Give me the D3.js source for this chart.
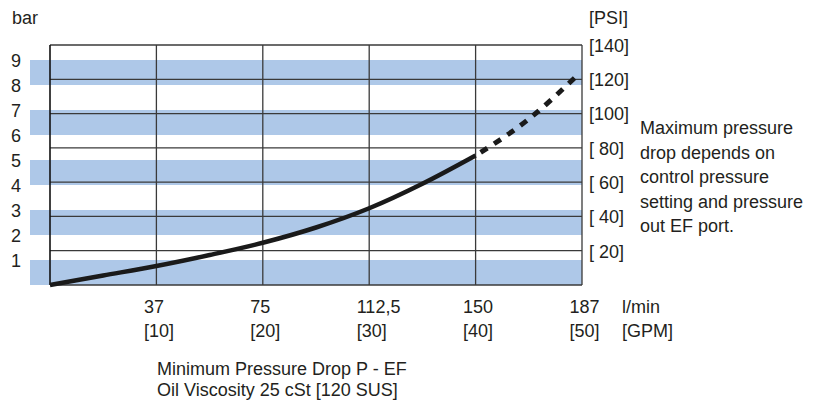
<!DOCTYPE html>
<html>
<head>
<meta charset="utf-8">
<script src="https://cdn.jsdelivr.net/npm/d3@7/dist/d3.min.js"></script>
<style>
  html, body { margin: 0; padding: 0; background: #fff; }
  svg { display: block; }
  text { font-family: "Liberation Sans", Arial, sans-serif; font-size: 18px; fill: #231f20; }
</style>
</head>
<body>
<svg id="chart" width="821" height="404"></svg>
<script>
// ---- data ----
const flowGpmTicks = [10, 20, 30, 40, 50];
const flowLminLabels = ["37", "75", "112,5", "150", "187"];
const flowGpmLabels = ["[10]", "[20]", "[30]", "[40]", "[50]"];
const barTicks = [1, 2, 3, 4, 5, 6, 7, 8, 9];
const psiTicks = [20, 40, 60, 80, 100, 120, 140];
const bandStarts = [0, 2, 4, 6, 8];           // shaded bands: [v, v+1] bar
// measured curve (flow in GPM, pressure drop in bar)
const solidFlow = [0, 5, 10, 15, 20, 25, 30, 35, 40];
const solidBar  = [0, 0.38, 0.76, 1.2, 1.69, 2.3, 3.07, 4.05, 5.18];
const dashFlow  = [40, 45, 49.4];
const dashBar   = [5.18, 6.64, 8.32];
const noteLines = ["Maximum pressure", "drop depends on", "control pressure", "setting and pressure", "out EF port."];
const captionLines = ["Minimum Pressure Drop P - EF", "Oil Viscosity 25 cSt [120 SUS]"];

// ---- scales ----
const x = d3.scaleLinear().domain([0, 50]).range([50, 582]);
const yBar = d3.scaleLinear().domain([0, 9.6]).range([285, 45]);
const yPsi = d3.scaleLinear().domain([0, 140]).range([285, 45]);

const svg = d3.select("#chart");

// bands
svg.append("g").selectAll("rect").data(bandStarts).join("rect")
  .attr("x", 30).attr("width", x(50) - 30)
  .attr("y", d => yBar(d + 1)).attr("height", d => yBar(d) - yBar(d + 1))
  .attr("fill", "#aec8e8");

// horizontal grid (psi)
svg.append("g").selectAll("line").data([0].concat(psiTicks)).join("line")
  .attr("x1", x(0)).attr("x2", x(50))
  .attr("y1", d => yPsi(d)).attr("y2", d => yPsi(d))
  .attr("stroke", "#3a3a3a").attr("stroke-width", 1.3);

// vertical grid
svg.append("g").selectAll("line").data([0].concat(flowGpmTicks)).join("line")
  .attr("x1", d => x(d)).attr("x2", d => x(d))
  .attr("y1", yPsi(140)).attr("y2", yPsi(0))
  .attr("stroke", d => d === 0 ? "#111" : "#3a3a3a").attr("stroke-width", d => d === 0 ? 1.6 : 1.3);

// curve
const pts = solidFlow.map((f, i) => [f, solidBar[i]]);
const dpts = dashFlow.map((f, i) => [f, dashBar[i]]);
const line = d3.line().x(d => x(d[0])).y(d => yBar(d[1])).curve(d3.curveMonotoneX);
svg.append("path").attr("d", line(pts)).attr("fill", "none")
  .attr("stroke", "#1a1a1a").attr("stroke-width", 4.5);
svg.append("path").attr("d", line(dpts)).attr("fill", "none")
  .attr("stroke", "#1a1a1a").attr("stroke-width", 5).attr("stroke-dasharray", "8,8")
  .attr("stroke-dashoffset", -6);

// left axis (bar)
const gl = svg.append("g").attr("transform", "translate(21,0)")
  .call(d3.axisLeft(yBar).tickValues(barTicks).tickSize(0).tickPadding(0).tickFormat(d3.format("d")));
gl.select(".domain").remove();
gl.selectAll("text").attr("font-family", null).attr("font-size", null).attr("dy", "0.35em");

// right axis (psi)
const gr = svg.append("g").attr("transform", "translate(589,0)")
  .call(d3.axisRight(yPsi).tickValues(psiTicks).tickSize(0).tickPadding(0)
    .tickFormat(d => d < 100 ? "[ " + d + "]" : "[" + d + "]"));
gr.select(".domain").remove();
gr.selectAll("text").attr("font-family", null).attr("font-size", null).attr("dy", "0.35em")
  .style("white-space", "pre");

// bottom axes
const gb1 = svg.append("g").attr("transform", "translate(-13,299)")
  .call(d3.axisBottom(x).tickValues(flowGpmTicks).tickSize(0).tickPadding(0)
    .tickFormat((d, i) => flowLminLabels[i]));
gb1.select(".domain").remove();
gb1.selectAll("text").attr("font-family", null).attr("font-size", null).attr("dy", null)
  .attr("y", 14).attr("text-anchor", "start");

const gb2 = svg.append("g").attr("transform", "translate(-13,323)")
  .call(d3.axisBottom(x).tickValues(flowGpmTicks).tickSize(0).tickPadding(0)
    .tickFormat((d, i) => flowGpmLabels[i]));
gb2.select(".domain").remove();
gb2.selectAll("text").attr("font-family", null).attr("font-size", null).attr("dy", null)
  .attr("y", 14).attr("text-anchor", "start");

// unit labels
svg.append("text").attr("x", 12).attr("y", 24).text("bar");
svg.append("text").attr("x", 589).attr("y", 24).text("[PSI]");
svg.append("text").attr("x", 622).attr("y", 313).text("l/min");
svg.append("text").attr("x", 622).attr("y", 337).text("[GPM]");

// note
svg.append("g").selectAll("text").data(noteLines).join("text")
  .attr("x", 640).attr("y", (d, i) => 134 + i * 24.5).text(d => d);

// caption
svg.append("g").selectAll("text").data(captionLines).join("text")
  .attr("x", 157).attr("y", (d, i) => 375 + i * 21).text(d => d);
</script>
</body>
</html>
